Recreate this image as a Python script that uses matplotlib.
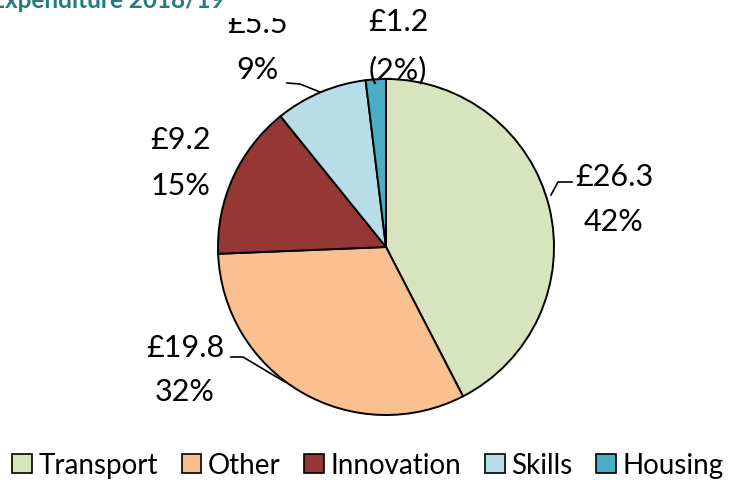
import matplotlib
matplotlib.use('Agg')
import matplotlib.pyplot as plt
import numpy as np

plt.rcParams['font.family'] = ['Lato', 'DejaVu Sans']

categories = ['Transport', 'Other', 'Innovation', 'Skills', 'Housing']
values = [26.3, 19.8, 9.2, 5.5, 1.2]
pct_labels = ['42%', '32%', '15%', '9%', '(2%)']
colors = ['#D7E4BD', '#FAC090', '#953735', '#B7DEE8', '#4BACC6']
title = 'Expenditure 2018/19'

W, H = 733, 481
fig = plt.figure(figsize=(W / 100, H / 100), dpi=100)
ax = fig.add_axes([0, 0, 1, 1])

# pie in pixel space (y flipped, so clockwise on screen = counterclock in data)
cx, cy, r = 386, 248, 168
wedges, _ = ax.pie(values, colors=colors, startangle=-90, counterclock=True,
                   center=(cx, cy), radius=r, frame=True,
                   wedgeprops=dict(edgecolor='black', linewidth=1.4))
ax.set_xlim(0, W)
ax.set_ylim(H, 0)
ax.set_aspect('equal')
ax.axis('off')

# label layout: (text x, value y, percent y, leader points or None)
layout = [
    (614, 177, 222, [(572, 183), (558, 183), (551, 196)]),
    (185, 348, 392, [(231, 358), (243, 358), (285, 383)]),
    (180, 140, 186, None),
    (258, 24, 70, [(287, 84), (300, 85), (320, 93)]),
    (398, 22, 70, None),
]
for val, pct, (tx, y1, y2, leader) in zip(values, pct_labels, layout):
    ax.text(tx, y1, '£%.1f' % val, fontsize=22, ha='center', va='center', color='black')
    ax.text(tx, y2, pct, fontsize=22, ha='center', va='center', color='black')
    if leader:
        xs, ys = zip(*leader)
        ax.plot(xs, ys, color='black', lw=1.2)

# the title box hides the top of the nearby label, as in the source
ax.add_patch(plt.Rectangle((0, 0), 300, 19, facecolor='white', edgecolor='none', zorder=5))
fig.text(-0.012, 1.022, title, fontsize=17.5, fontweight='bold', color='#237A82',
         ha='left', va='top', zorder=6)

handles = [plt.Rectangle((0, 0), 1, 1, facecolor=c, edgecolor='black', linewidth=1.2) for c in colors]
fig.legend(handles, categories, loc='center', bbox_to_anchor=(0.502, 1 - 466 / H), ncol=5,
           frameon=False, fontsize=20, handlelength=0.7, handleheight=0.7,
           handletextpad=0.25, columnspacing=0.85, borderpad=0)

fig.savefig('out.png', dpi=100)
